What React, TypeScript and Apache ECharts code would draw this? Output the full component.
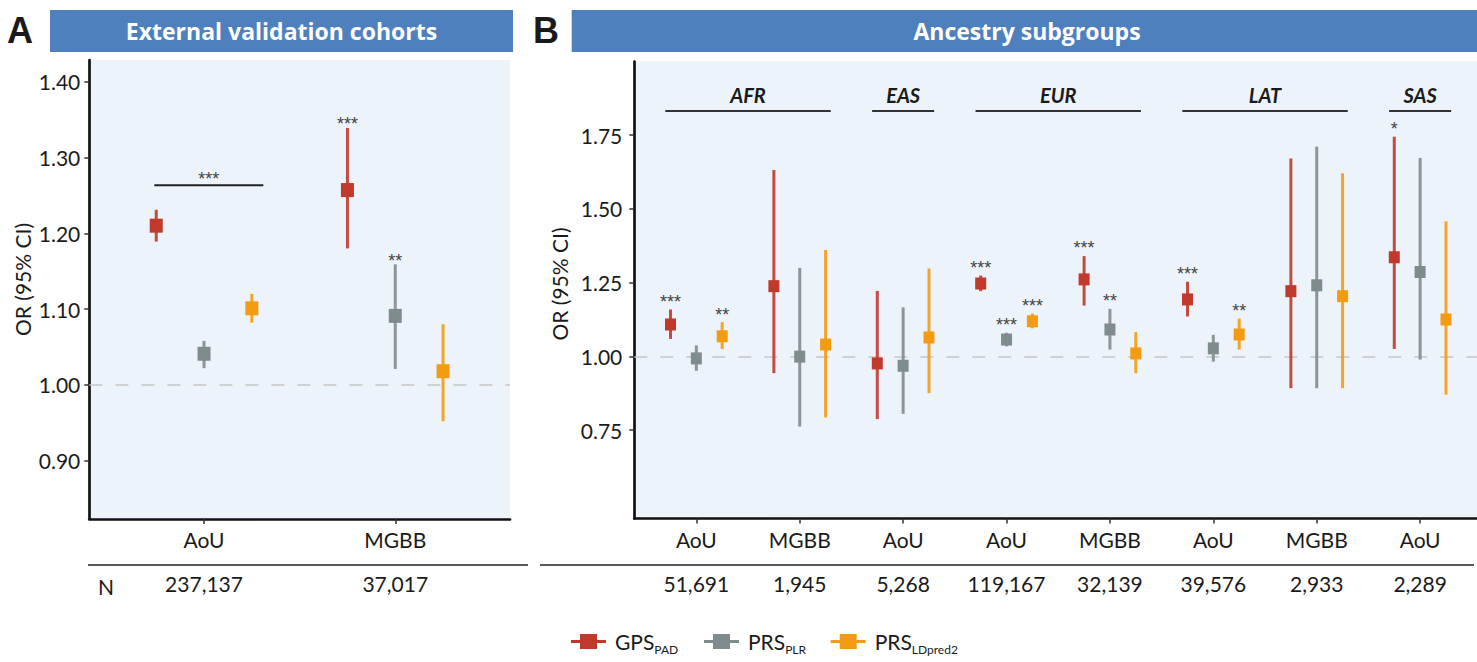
import React, { useEffect, useRef } from 'react';
import * as echarts from 'echarts';

// ---------- Panel A data ----------
const catsA = ['AoU', 'MGBB'];
const nA = ['237,137', '37,017'];
const gpsA_or = [1.21, 1.257];
const gpsA_lo = [1.189, 1.18];
const gpsA_hi = [1.231, 1.339];
const gpsA_sig = ['', '***'];
const plrA_or = [1.041, 1.091];
const plrA_lo = [1.022, 1.021];
const plrA_hi = [1.058, 1.159];
const plrA_sig = ['', '**'];
const ldA_or = [1.101, 1.018];
const ldA_lo = [1.082, 0.952];
const ldA_hi = [1.12, 1.08];
const ldA_sig = ['', ''];
const bracketA = [[0, 1.2635]];
const bracketA_sig = ['***'];
const yTicksA = [0.9, 1.0, 1.1, 1.2, 1.3, 1.4];

// ---------- Panel B data ----------
const catsB = ['AoU', 'MGBB', 'AoU', 'AoU', 'MGBB', 'AoU', 'MGBB', 'AoU'];
const nB = ['51,691', '1,945', '5,268', '119,167', '32,139', '39,576', '2,933', '2,289'];
const gpsB_or = [1.108, 1.238, 0.976, 1.247, 1.261, 1.193, 1.221, 1.336];
const gpsB_lo = [1.059, 0.943, 0.787, 1.221, 1.172, 1.135, 0.892, 1.025];
const gpsB_hi = [1.159, 1.632, 1.222, 1.274, 1.34, 1.253, 1.671, 1.745];
const gpsB_sig = ['***', '', '', '***', '***', '***', '', '*'];
const plrB_or = [0.993, 0.999, 0.968, 1.057, 1.091, 1.027, 1.241, 1.286];
const plrB_lo = [0.951, 0.762, 0.805, 1.034, 1.023, 0.982, 0.892, 0.989];
const plrB_hi = [1.037, 1.3, 1.166, 1.08, 1.161, 1.073, 1.711, 1.673];
const plrB_sig = ['', '', '', '***', '**', '', '', ''];
const ldB_or = [1.068, 1.04, 1.064, 1.119, 1.01, 1.074, 1.204, 1.125];
const ldB_lo = [1.025, 0.793, 0.875, 1.095, 0.943, 1.023, 0.892, 0.87];
const ldB_hi = [1.116, 1.361, 1.298, 1.145, 1.082, 1.128, 1.621, 1.458];
const ldB_sig = ['**', '', '', '***', '', '**', '', ''];
const groupNames = ['AFR', 'EAS', 'EUR', 'LAT', 'SAS'];
const groupStart = [0, 2, 3, 5, 7];
const groupEnd = [1, 2, 4, 6, 7];
const yTicksB = [0.75, 1.0, 1.25, 1.5, 1.75];

const seriesNames = ['GPS_PAD', 'PRS_PLR', 'PRS_LDpred2'];
const legendMain = ['GPS', 'PRS', 'PRS'];
const legendSub = ['PAD', 'PLR', 'LDpred2'];

const COLORS = ['#C0392B', '#7F8C8D', '#F39C12'];
const FONT = 'Lato';
const STAR_FONT = 'Liberation Sans';
const TXT = '#1a1a1a';
const DODGE = [-0.25, 0, 0.25];

function makeRender(offset: number, color: string, sig: string[], sqW: number, sqH: number, starGap: number) {
  return (params: any, api: any) => {
    const x = api.value(0) + offset;
    const pE = api.coord([x, api.value(1)]);
    const pLo = api.coord([x, api.value(2)]);
    const pHi = api.coord([x, api.value(3)]);
    const children: any[] = [
      {
        type: 'line',
        shape: { x1: pHi[0], y1: pHi[1], x2: pLo[0], y2: pLo[1] },
        style: { stroke: color, lineWidth: 3, opacity: 0.9 },
      },
      {
        type: 'rect',
        shape: { x: pE[0] - sqW / 2, y: pE[1] - sqH / 2, width: sqW, height: sqH },
        style: { fill: color },
      },
    ];
    const s = sig[params.dataIndex];
    if (s) {
      children.push({
        type: 'text',
        style: {
          text: s, x: pHi[0], y: pHi[1] - starGap, align: 'center', verticalAlign: 'middle',
          fontSize: 18, fontFamily: STAR_FONT, fill: '#444',
        },
      });
    }
    return { type: 'group', children };
  };
}

function pointSeries(name: string, idx: number, xi: number, yi: number, or: number[], lo: number[], hi: number[], sig: string[], sqW: number, sqH: number, starGap: number, extra: any = {}) {
  return {
    type: 'custom',
    name,
    xAxisIndex: xi,
    yAxisIndex: yi,
    itemStyle: { color: COLORS[idx] },
    encode: { x: 0, y: 1 },
    clip: false,
    data: or.map((v, i) => [i, v, lo[i], hi[i]]),
    renderItem: makeRender(DODGE[idx], COLORS[idx], sig, sqW, sqH, starGap),
    z: 3,
    ...extra,
  };
}

const dashedLine = {
  silent: true,
  symbol: 'none',
  label: { show: false },
  lineStyle: { color: '#c6c6c6', type: [13, 13], width: 1.5 },
  data: [{ yAxis: 1 }],
  z: 1,
};

function catAxis(grid: number, max: number, cats: string[]) {
  const vals = cats.map((_, i) => i);
  return {
    type: 'value', gridIndex: grid, min: -0.6, max, position: 'bottom',
    axisLine: { show: true, onZero: false, lineStyle: { color: '#111', width: 2.7 } },
    axisTick: { show: true, customValues: vals, length: 5, lineStyle: { color: '#333', width: 1.5 } },
    axisLabel: {
      customValues: vals, formatter: (v: number) => cats[Math.round(v)] ?? '',
      fontSize: 21, fontFamily: FONT, color: TXT, margin: 10,
    },
    splitLine: { show: false },
  };
}

function nAxis(grid: number, max: number, ns: string[]) {
  const vals = ns.map((_, i) => i);
  return {
    type: 'value', gridIndex: grid, min: -0.6, max, position: 'bottom',
    axisLine: { show: false }, axisTick: { show: false },
    axisLabel: {
      customValues: vals, formatter: (v: number) => ns[Math.round(v)] ?? '',
      fontSize: 21, fontFamily: FONT, color: TXT, margin: 54,
    },
    splitLine: { show: false },
  };
}

function valAxis(grid: number, min: number, max: number, ticks: number[], margin: number, shift: number) {
  return {
    type: 'value', gridIndex: grid, min, max,
    name: 'OR (95% CI)', nameLocation: 'middle', nameGap: 56,
    nameTextStyle: { fontSize: 21, fontFamily: FONT, color: TXT, padding: [0, 0, 0, shift] },
    axisLine: { show: true, onZero: false, lineStyle: { color: '#111', width: 2.7 } },
    axisTick: { show: true, customValues: ticks, length: 5, lineStyle: { color: '#333', width: 1.5 } },
    axisLabel: {
      customValues: ticks, formatter: (v: number) => v.toFixed(2),
      fontSize: 21, fontFamily: FONT, color: TXT, margin,
    },
    splitLine: { show: false },
  };
}

function buildOption() {
  const series: any[] = [
    pointSeries(seriesNames[0], 0, 0, 0, gpsA_or, gpsA_lo, gpsA_hi, gpsA_sig, 13, 14, 3.5, { markLine: dashedLine }),
    pointSeries(seriesNames[1], 1, 0, 0, plrA_or, plrA_lo, plrA_hi, plrA_sig, 13, 14, 3.5),
    pointSeries(seriesNames[2], 2, 0, 0, ldA_or, ldA_lo, ldA_hi, ldA_sig, 13, 14, 3.5),
    {
      type: 'custom', xAxisIndex: 0, yAxisIndex: 0, clip: false, silent: true,
      data: bracketA,
      renderItem: (params: any, api: any) => {
        const c = api.value(0);
        const p1 = api.coord([c - 0.26, api.value(1)]);
        const p2 = api.coord([c + 0.31, api.value(1)]);
        return {
          type: 'group', children: [
            { type: 'line', shape: { x1: p1[0], y1: p1[1], x2: p2[0], y2: p2[1] }, style: { stroke: '#222', lineWidth: 2 } },
            {
              type: 'text', style: {
                text: bracketA_sig[params.dataIndex], x: (p1[0] + p2[0]) / 2, y: p1[1] - 6.5,
                align: 'center', verticalAlign: 'middle', fontSize: 18, fontFamily: STAR_FONT, fill: '#444',
              },
            },
          ],
        };
      },
    },
    pointSeries(seriesNames[0], 0, 2, 1, gpsB_or, gpsB_lo, gpsB_hi, gpsB_sig, 11, 12, 7.6, { markLine: dashedLine }),
    pointSeries(seriesNames[1], 1, 2, 1, plrB_or, plrB_lo, plrB_hi, plrB_sig, 11, 12, 7.6),
    pointSeries(seriesNames[2], 2, 2, 1, ldB_or, ldB_lo, ldB_hi, ldB_sig, 11, 12, 7.6),
    {
      type: 'custom', xAxisIndex: 2, yAxisIndex: 1, clip: false, silent: true,
      data: groupStart.map((s, i) => [s, groupEnd[i]]),
      renderItem: (params: any, api: any) => {
        const p1 = api.coord([api.value(0) - 0.3, 2.0]);
        const p2 = api.coord([api.value(1) + 0.3, 2.0]);
        const top = p1[1];
        return {
          type: 'group', children: [
            { type: 'line', shape: { x1: p1[0], y1: top + 49.5, x2: p2[0], y2: top + 49.5 }, style: { stroke: '#333', lineWidth: 2 } },
            {
              type: 'text', style: {
                text: groupNames[params.dataIndex], x: (p1[0] + p2[0]) / 2, y: top + 33,
                align: 'center', verticalAlign: 'middle', fontSize: 20, fontFamily: FONT,
                fontWeight: 'bold', fontStyle: 'italic', fill: TXT,
              },
            },
          ],
        };
      },
    },
  ];

  const legendLeft = [571, 704, 830.7];
  const legend = seriesNames.map((n, i) => ({
    show: true, left: legendLeft[i], top: 631, orient: 'horizontal', padding: 0,
    itemWidth: 35, itemHeight: 15, selectedMode: false,
    icon: 'path://M0,6H9V0H26V6H35V9H26V15H9V9H0Z',
    data: [n],
    formatter: () => `{m|${legendMain[i]}}{s|${legendSub[i]}}`,
    textStyle: {
      rich: {
        m: { fontSize: 21, fontFamily: FONT, color: TXT, lineHeight: 28, verticalAlign: 'middle', padding: [0, 0, 0, 4] },
        s: { fontSize: 12, fontFamily: FONT, color: TXT, lineHeight: 28, verticalAlign: 'bottom' },
      },
    },
  }));

  return {
    animation: false,
    backgroundColor: '#ffffff',
    grid: [
      { left: 89.3, top: 60, width: 420.7, height: 459, show: true, backgroundColor: '#ECF3FA', borderWidth: 0 },
      { left: 634.3, top: 61.5, width: 842.7, height: 457, show: true, backgroundColor: '#ECF3FA', borderWidth: 0 },
    ],
    xAxis: [
      catAxis(0, 1.6, catsA),
      nAxis(0, 1.6, nA),
      catAxis(1, 7.55, catsB),
      nAxis(1, 7.55, nB),
    ],
    yAxis: [
      valAxis(0, 0.823, 1.4286, yTicksA, 9, 20),
      valAxis(1, 0.45, 2.0, yTicksB, 12, 12),
    ],
    legend,
    series,
    graphic: [
      { type: 'rect', shape: { x: 50, y: 10, width: 463, height: 42 }, style: { fill: '#4F80BE' } },
      {
        type: 'text', x: 281.5, y: 31,
        style: { text: 'External validation cohorts', align: 'center', verticalAlign: 'middle', fill: '#fff', fontSize: 23, fontWeight: 'bold', fontFamily: 'Open Sans' },
      },
      { type: 'rect', shape: { x: 571.7, y: 10, width: 912, height: 42 }, style: { fill: '#4F80BE' } },
      {
        type: 'text', x: 1027, y: 31,
        style: { text: 'Ancestry subgroups', align: 'center', verticalAlign: 'middle', fill: '#fff', fontSize: 23, fontWeight: 'bold', fontFamily: 'Open Sans' },
      },
      {
        type: 'text', x: 7, y: 30,
        style: { text: 'A', align: 'left', verticalAlign: 'middle', fill: TXT, fontSize: 36, fontWeight: 'bold', fontFamily: 'Liberation Sans' },
      },
      {
        type: 'text', x: 533, y: 30,
        style: { text: 'B', align: 'left', verticalAlign: 'middle', fill: TXT, fontSize: 36, fontWeight: 'bold', fontFamily: 'Liberation Sans' },
      },
      { type: 'line', shape: { x1: 88, y1: 565, x2: 528, y2: 565 }, style: { stroke: '#222', lineWidth: 1.5 } },
      { type: 'line', shape: { x1: 540, y1: 565, x2: 1474, y2: 565 }, style: { stroke: '#222', lineWidth: 1.5 } },
      {
        type: 'text', x: 98, y: 586,
        style: { text: 'N', align: 'left', verticalAlign: 'middle', fill: TXT, fontSize: 21, fontFamily: FONT },
      },
    ],
  };
}

export default function App() {
  const ref = useRef<HTMLDivElement>(null);
  useEffect(() => {
    const chart = echarts.init(ref.current!, null, { renderer: 'svg' });
    chart.setOption(buildOption() as any);
    return () => chart.dispose();
  }, []);
  return (
    <div
      ref={ref}
      style={{ position: 'fixed', left: 0, top: 0, width: '1477px', height: '662px', background: '#fff' }}
    />
  );
}
